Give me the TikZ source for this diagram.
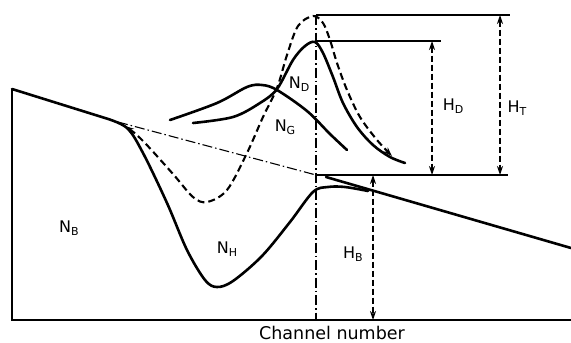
\documentclass[tikz,border=0pt]{standalone}
\usepackage{fontspec}
\setmainfont{DejaVu Sans}
\usetikzlibrary{arrows.meta}
\newcommand{\lsub}[1]{\raisebox{-3.5pt}{\fontsize{11}{11}\selectfont #1}}
\begin{document}
\begin{tikzpicture}[x=1pt,y=-1pt,
  thin line/.style={line width=1.4pt},
  curve/.style={line width=2.6pt,line cap=round},
  dcurve/.style={line width=2.1pt,dash pattern=on 7pt off 4pt},
  dimline/.style={line width=1.2pt,dash pattern=on 6pt off 3pt,{Stealth[length=9pt,width=6pt]}-{Stealth[length=9pt,width=6pt]}},
  ddot/.style={line width=1.1pt,dash pattern=on 10pt off 3pt on 1.5pt off 3pt},
  lab/.style={font=\fontsize{16}{16}\selectfont,inner sep=0pt}]
\useasboundingbox (0,0) rectangle (571,343);
% frame
\coordinate (tl) at (12,89);
\coordinate (bl) at (12,320);
\coordinate (br) at (571,320);
\draw[thin line] (tl) -- (bl) -- (br);
% reference lines
\coordinate (vt) at (316,15);
\coordinate (vb) at (316,320);
\draw[ddot] (vt) -- (vb);
\coordinate (bs) at (118,122);
\coordinate (be) at (316,175);
\draw[ddot] (bs) -- (be);
% horizontal levels
\coordinate (t1) at (316,15); \coordinate (t2) at (510,15);
\coordinate (d1) at (316,41); \coordinate (d2) at (441,41);
\coordinate (b1) at (316,175); \coordinate (b2) at (508,175);
\draw[thin line] (t1) -- (t2);
\draw[thin line] (d1) -- (d2);
\draw[thin line] (b1) -- (b2);
% dimension arrows
\coordinate (hta) at (500,15); \coordinate (htb) at (500,175);
\coordinate (hda) at (432,41); \coordinate (hdb) at (432,175);
\coordinate (hba) at (373,175); \coordinate (hbb) at (373,320);
\draw[dimline] (hta) -- (htb);
\draw[dimline] (hda) -- (hdb);
\draw[dimline] (hba) -- (hbb);
% background right part
\coordinate (rs) at (326,177);
\coordinate (re) at (571,248);
\draw[curve] (rs) -- (re);
% N_H solid curve with background
\draw[curve] (tl) -- (105,118) plot[smooth,tension=0.55] coordinates {(105,118) (127,128) (143,153) (167,203) (187,250) (205,280) (217,287) (233,281) (262,256) (290,222) (313,192) (328,187) (345,187) (368,191)};
% dashed total curve
\draw[dcurve,{Stealth[length=9pt,width=6pt]}-{Stealth[length=9pt,width=6pt]}] plot[smooth,tension=0.55] coordinates {(125,126) (143,141) (173,174) (193,197) (207,202) (227,190) (247,153) (263,117) (277,88) (287,55) (298,26) (313,16) (323,23) (330,40) (337,63) (347,90) (360,117) (377,140) (392,156)};
% N_D solid curve
\draw[curve] plot[smooth,tension=0.55] coordinates {(193,123) (233,117) (260,103) (277,89) (293,60) (305,46) (315,42) (323,53) (333,77) (343,103) (357,127) (373,145) (390,157) (405,163)};
% N_G curve
\draw[curve] plot[smooth,tension=0.55] coordinates {(170,120) (217,103) (247,87) (262,85) (277,90) (307,111) (330,134) (347,150)};
% labels
\node[lab] (nb) at (69,228) {N\lsub{B}};
\node[lab] (nh) at (227,249) {N\lsub{H}};
\node[lab] (nd) at (299,84) {N\lsub{D}};
\node[lab] (ng) at (285,127) {N\lsub{G}};
\node[lab] (hd) at (453,106) {H\lsub{D}};
\node[lab] (ht) at (517,108) {H\lsub{T}};
\node[lab] (hb) at (353,254) {H\lsub{B}};
\node[lab,font=\fontsize{17.5}{17.5}\selectfont,anchor=base] (cn) at (332,339.5) {Channel number};
\end{tikzpicture}
\end{document}
